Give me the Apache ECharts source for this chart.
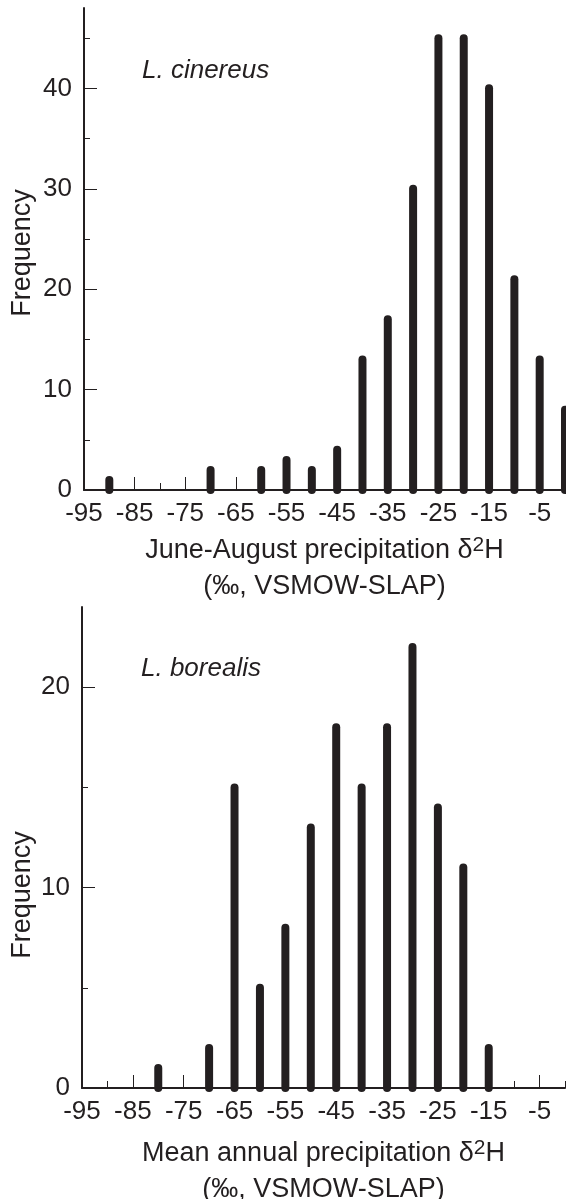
<!DOCTYPE html>
<html>
<head>
<meta charset="utf-8">
<title>Precipitation δ2H histograms</title>
<script src="https://cdn.jsdelivr.net/npm/echarts@6/dist/echarts.min.js"></script>
<style>
  html, body { margin: 0; padding: 0; background: #fff; }
  #chart { width: 566px; height: 1199px; }
</style>
</head>
<body>
<div id="chart"></div>
<script>
// L. cinereus (June-August precipitation)
const cinereusBins = [-90, -70, -60, -55, -50, -45, -40, -35, -30, -25, -20, -15, -10, -5, 0]
const cinereusCounts = [1, 2, 2, 3, 2, 4, 13, 17, 30, 45, 45, 40, 21, 13, 8]

// L. borealis (mean annual precipitation)
const borealisBins = [-80, -70, -65, -60, -55, -50, -45, -40, -35, -30, -25, -20, -15]
const borealisCounts = [1, 2, 15, 5, 8, 13, 18, 15, 18, 22, 14, 11, 2]

// tick labels / positions
const xLabelTicks = [-95, -85, -75, -65, -55, -45, -35, -25, -15, -5]
const xMinorTicks = [-90, -80, -70, -60, -50, -40, -30, -20, -10, 0]
const yTopMajor = [0, 10, 20, 30, 40]
const yTopMinor = [5, 15, 25, 35, 45]
const yBottomMajor = [0, 10, 20]
const yBottomMinor = [5, 15]

const ink = '#231f20'
const fontFamily = '"Liberation Sans", Arial, Helvetica, sans-serif'

const chart = echarts.init(document.getElementById('chart'))

// vertical stick with round ends
function renderStick (params, api) {
  const base = api.coord([api.value(0), 0])
  const top = api.coord([api.value(0), api.value(1)])
  return {
    type: 'line',
    shape: { x1: base[0], y1: base[1], x2: top[0], y2: top[1] },
    style: { stroke: ink, lineWidth: 8, lineCap: 'round' }
  }
}

function xAxes (gridIndex, title, gap) {
  return [
    {
      type: 'value',
      gridIndex: gridIndex,
      position: 'bottom',
      min: -95,
      max: 0,
      axisLine: { onZero: false, lineStyle: { color: ink, width: 2 } },
      axisTick: { inside: true, length: 13, customValues: xLabelTicks, lineStyle: { color: ink, width: 1 } },
      axisLabel: {
        customValues: xLabelTicks,
        color: ink,
        fontSize: 26,
        fontFamily: fontFamily,
        margin: 11
      },
      splitLine: { show: false },
      name: title,
      nameLocation: 'middle',
      nameGap: gap,
      nameTextStyle: {
        color: ink,
        fontSize: 27,
        fontFamily: fontFamily,
        lineHeight: 36,
        rich: {
          t: { fontSize: 27, fontFamily: fontFamily, color: ink, lineHeight: 36 },
          s: { fontSize: 21, fontFamily: fontFamily, color: ink, lineHeight: 36, verticalAlign: 'top', padding: [2, 0, 0, 0] }
        }
      }
    },
    {
      type: 'value',
      gridIndex: gridIndex,
      position: 'bottom',
      min: -95,
      max: 0,
      axisLine: { show: false, onZero: false },
      axisTick: { inside: true, length: 7, customValues: xMinorTicks, lineStyle: { color: ink, width: 1 } },
      axisLabel: { show: false },
      splitLine: { show: false }
    }
  ]
}

function yAxes (gridIndex, max, major, minor) {
  return [
    {
      type: 'value',
      gridIndex: gridIndex,
      position: 'left',
      min: 0,
      max: max,
      axisLine: { show: true, onZero: false, lineStyle: { color: ink, width: 2 } },
      axisTick: { show: true, inside: true, length: 13, customValues: major, lineStyle: { color: ink, width: 1 } },
      axisLabel: {
        customValues: major,
        color: ink,
        fontSize: 26,
        fontFamily: fontFamily,
        margin: 12
      },
      splitLine: { show: false }
    },
    {
      type: 'value',
      gridIndex: gridIndex,
      position: 'left',
      min: 0,
      max: max,
      axisLine: { show: false, onZero: false },
      axisTick: { show: true, inside: true, length: 6, customValues: minor, lineStyle: { color: ink, width: 1 } },
      axisLabel: { show: false },
      splitLine: { show: false }
    }
  ]
}

const topTitle = '{t|June-August precipitation δ}{s|2}{t|H}\n{t|(‰, VSMOW-SLAP)}'
const bottomTitle = '{t|Mean annual precipitation δ}{s|2}{t|H}\n{t|(‰, VSMOW-SLAP)}'

chart.setOption({
  backgroundColor: '#fff',
  animation: false,
  grid: [
    { left: 84, right: 1, top: 8, height: 482, containLabel: false, outerBoundsMode: 'none' },
    { left: 82, right: 1, top: 607, height: 481, containLabel: false, outerBoundsMode: 'none' }
  ],
  xAxis: [].concat(xAxes(0, topTitle, 43), xAxes(1, bottomTitle, 48)),
  yAxis: [].concat(yAxes(0, 48, yTopMajor, yTopMinor), yAxes(1, 24, yBottomMajor, yBottomMinor)),
  graphic: [
    {
      type: 'text', x: 142, y: 71,
      style: { text: 'L. cinereus', font: 'italic 26px ' + fontFamily, fill: ink, verticalAlign: 'middle' }
    },
    {
      type: 'text', x: 141, y: 669,
      style: { text: 'L. borealis', font: 'italic 26px ' + fontFamily, fill: ink, verticalAlign: 'middle' }
    },
    {
      type: 'text', x: 23, y: 253, rotation: Math.PI / 2,
      style: { text: 'Frequency', font: '27px ' + fontFamily, fill: ink, align: 'center', verticalAlign: 'middle' }
    },
    {
      type: 'text', x: 23, y: 895, rotation: Math.PI / 2,
      style: { text: 'Frequency', font: '27px ' + fontFamily, fill: ink, align: 'center', verticalAlign: 'middle' }
    }
  ],
  series: [
    {
      name: 'L. cinereus',
      type: 'custom',
      xAxisIndex: 0,
      yAxisIndex: 0,
      renderItem: renderStick,
      encode: { x: 0, y: 1 },
      clip: false,
      data: cinereusBins.map((b, i) => [b, cinereusCounts[i]])
    },
    {
      name: 'L. borealis',
      type: 'custom',
      xAxisIndex: 2,
      yAxisIndex: 2,
      renderItem: renderStick,
      encode: { x: 0, y: 1 },
      clip: false,
      data: borealisBins.map((b, i) => [b, borealisCounts[i]])
    }
  ]
})
</script>
</body>
</html>
